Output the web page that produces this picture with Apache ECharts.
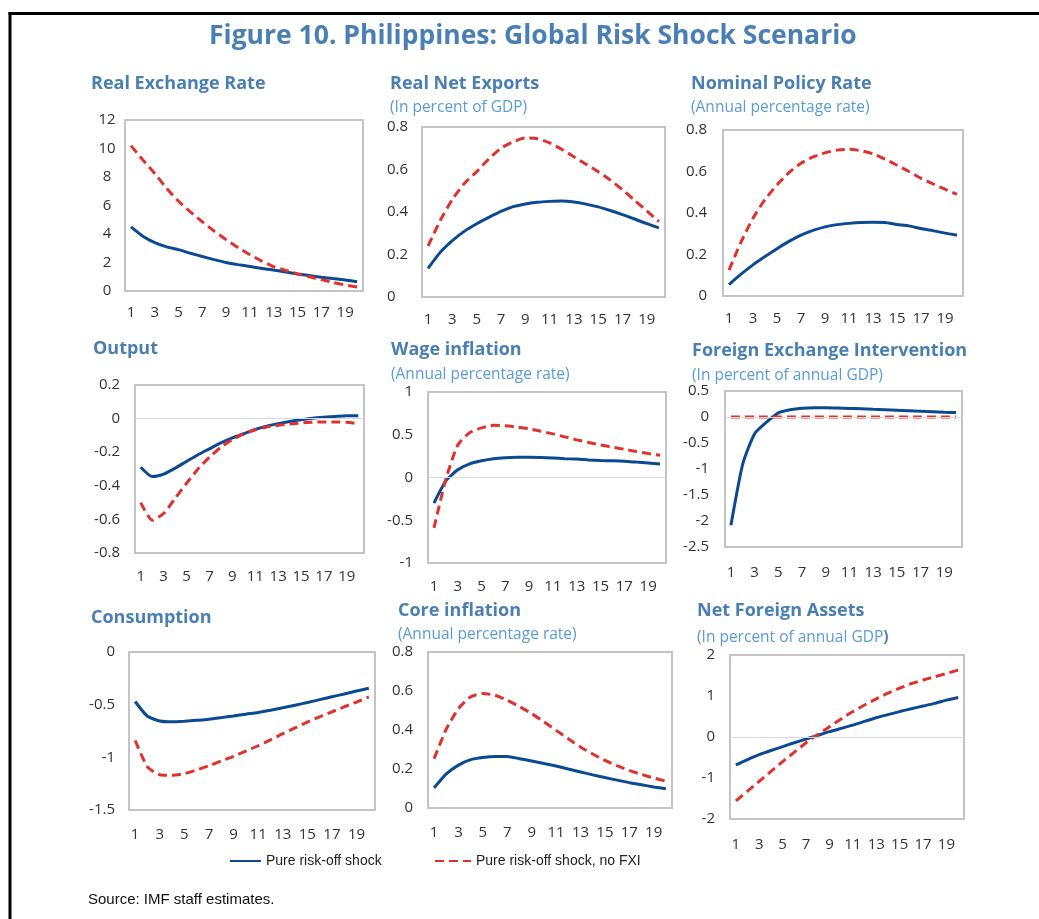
<!DOCTYPE html>
<html>
<head>
<meta charset="utf-8">
<script src="https://cdn.jsdelivr.net/npm/echarts@6/dist/echarts.min.js"></script>
<style>
  html, body { margin: 0; padding: 0; background: #fff; overflow: hidden; }
  #chart { width: 1039px; height: 919px; }
</style>
</head>
<body>
<div id="chart"></div>
<script>
// periods (quarters after shock)
const periods = ['1','2','3','4','5','6','7','8','9','10','11','12','13','14','15','16','17','18','19','20'];

const seriesNames = ['Pure risk-off shock', 'Pure risk-off shock, no FXI'];

// blue = with FXI, red = no FXI
const rerBlue = [4.5, 3.85, 3.4, 3.1, 2.9, 2.65, 2.42, 2.2, 2.0, 1.85, 1.72, 1.58, 1.47, 1.33, 1.2, 1.08, 0.97, 0.87, 0.77, 0.65];
const rerRed = [10.2, 9.2, 8.25, 7.2, 6.3, 5.55, 4.85, 4.2, 3.6, 3.05, 2.55, 2.1, 1.7, 1.45, 1.2, 1.0, 0.8, 0.6, 0.42, 0.28];

const nxBlue = [0.135, 0.21, 0.265, 0.31, 0.345, 0.375, 0.403, 0.425, 0.438, 0.446, 0.45, 0.452, 0.447, 0.437, 0.424, 0.407, 0.388, 0.367, 0.345, 0.325];
const nxRed = [0.24, 0.36, 0.46, 0.535, 0.59, 0.65, 0.70, 0.73, 0.748, 0.745, 0.725, 0.695, 0.66, 0.625, 0.59, 0.55, 0.505, 0.455, 0.405, 0.355];

const prBlue = [0.055, 0.105, 0.15, 0.19, 0.228, 0.263, 0.293, 0.316, 0.333, 0.344, 0.35, 0.354, 0.355, 0.354, 0.345, 0.338, 0.325, 0.315, 0.303, 0.293];
const prRed = [0.125, 0.26, 0.375, 0.465, 0.535, 0.595, 0.64, 0.67, 0.69, 0.703, 0.707, 0.70, 0.685, 0.66, 0.63, 0.6, 0.567, 0.54, 0.515, 0.49];

const outBlue = [-0.29, -0.345, -0.33, -0.295, -0.255, -0.215, -0.18, -0.145, -0.115, -0.09, -0.065, -0.045, -0.03, -0.017, -0.007, 0.002, 0.008, 0.013, 0.017, 0.017];
const outRed = [-0.5, -0.605, -0.565, -0.475, -0.385, -0.3, -0.23, -0.17, -0.125, -0.09, -0.066, -0.05, -0.04, -0.032, -0.026, -0.022, -0.02, -0.02, -0.022, -0.03];

const wageBlue = [-0.3, -0.04, 0.09, 0.16, 0.195, 0.22, 0.232, 0.237, 0.238, 0.235, 0.228, 0.22, 0.215, 0.205, 0.198, 0.195, 0.19, 0.18, 0.17, 0.157];
const wageRed = [-0.59, -0.02, 0.38, 0.525, 0.58, 0.61, 0.605, 0.59, 0.57, 0.54, 0.51, 0.475, 0.44, 0.41, 0.38, 0.355, 0.33, 0.305, 0.28, 0.26];

const fxiBlue = [-2.08, -0.9, -0.32, -0.1, 0.08, 0.14, 0.17, 0.18, 0.18, 0.175, 0.165, 0.16, 0.15, 0.14, 0.13, 0.12, 0.11, 0.1, 0.09, 0.085];
const fxiRed = [0, 0, 0, 0, 0, 0, 0, 0, 0, 0, 0, 0, 0, 0, 0, 0, 0, 0, 0, 0];

const consBlue = [-0.47, -0.61, -0.655, -0.663, -0.657, -0.648, -0.638, -0.623, -0.607, -0.59, -0.575, -0.553, -0.53, -0.505, -0.48, -0.452, -0.425, -0.398, -0.37, -0.345];
const consRed = [-0.84, -1.09, -1.165, -1.17, -1.155, -1.12, -1.08, -1.035, -0.99, -0.94, -0.89, -0.835, -0.775, -0.72, -0.665, -0.615, -0.568, -0.52, -0.475, -0.425];

const coreBlue = [0.103, 0.175, 0.22, 0.248, 0.259, 0.264, 0.264, 0.253, 0.241, 0.228, 0.215, 0.2, 0.185, 0.17, 0.156, 0.143, 0.13, 0.119, 0.108, 0.099];
const coreRed = [0.253, 0.405, 0.51, 0.57, 0.587, 0.578, 0.552, 0.52, 0.484, 0.442, 0.398, 0.355, 0.313, 0.277, 0.244, 0.217, 0.193, 0.172, 0.154, 0.137];

const nfaBlue = [-0.68, -0.55, -0.43, -0.33, -0.235, -0.14, -0.05, 0.04, 0.13, 0.21, 0.29, 0.38, 0.47, 0.545, 0.62, 0.69, 0.755, 0.82, 0.9, 0.965];
const nfaRed = [-1.56, -1.32, -1.08, -0.84, -0.6, -0.37, -0.14, 0.06, 0.25, 0.44, 0.62, 0.78, 0.93, 1.07, 1.19, 1.3, 1.39, 1.47, 1.55, 1.63];

// panel layout: grid box, y scale, label spacing, titles
const panels = [
    { title: 'Real Exchange Rate', tx: 91, ty: 83,
      box: [125, 120, 238, 171], y: [0, 12, 2], yAlign: 'center', yMargin: 18, xMargin: 14,
      blue: rerBlue, red: rerRed },
    { title: 'Real Net Exports', sub: '(In percent of GDP)', tx: 390, ty: 83, sy: 106,
      box: [422, 127, 243, 170], y: [0, 0.8, 0.2], yAlign: 'left', yMargin: 35, xMargin: 15,
      blue: nxBlue, red: nxRed },
    { title: 'Nominal Policy Rate', sub: '(Annual percentage rate)', tx: 691, ty: 83, sy: 106,
      box: [723, 130, 240, 166], y: [0, 0.8, 0.2], yAlign: 'right', yMargin: 16, xMargin: 15,
      blue: prBlue, red: prRed },
    { title: 'Output', tx: 93, ty: 348,
      box: [135, 385, 229, 168], y: [-0.8, 0.2, 0.2], yAlign: 'right', yMargin: 15, xMargin: 16, zero: true,
      blue: outBlue, red: outRed },
    { title: 'Wage inflation', sub: '(Annual percentage rate)', tx: 391, ty: 349, sy: 373,
      box: [428, 392, 238, 171], y: [-1, 1, 0.5], yAlign: 'right', yMargin: 15, xMargin: 16, zero: true,
      blue: wageBlue, red: wageRed },
    { title: 'Foreign Exchange Intervention', sub: '(In percent of annual GDP)', tx: 692, ty: 350, sy: 374,
      box: [725, 391, 237, 156], y: [-2.5, 0.5, 0.5], yAlign: 'right', yMargin: 16, xMargin: 18, zero: true,
      blue: fxiBlue, red: fxiRed },
    { title: 'Consumption', tx: 91, ty: 617,
      box: [129, 652, 246, 158], y: [-1.5, 0, 0.5], yAlign: 'right', yMargin: 14, xMargin: 17,
      blue: consBlue, red: consRed },
    { title: 'Core inflation', sub: '(Annual percentage rate)', tx: 398, ty: 610, sy: 633,
      box: [428, 652, 244, 156], y: [0, 0.8, 0.2], yAlign: 'right', yMargin: 15, xMargin: 17,
      blue: coreBlue, red: coreRed },
    { title: 'Net Foreign Assets', sub: '(In percent of annual GDP', subBold: ')', tx: 697, ty: 610, sy: 636,
      box: [730, 655, 234, 164], y: [-2, 2, 1], yAlign: 'right', yMargin: 15, xMargin: 18, zero: true,
      blue: nfaBlue, red: nfaRed }
];

const BLUE = '#0b4a93';
const RED = '#e0322c';
const TITLE = '#4a7fb3';
const SUB = '#5b9bd5';
const LABEL_FONT = 'Open Sans, Noto Sans, sans-serif';

const chart = echarts.init(document.getElementById('chart'));

const grids = [], xAxes = [], yAxes = [], series = [], texts = [];

panels.forEach((p, i) => {
    grids.push({
        left: p.box[0], top: p.box[1], width: p.box[2], height: p.box[3],
        show: true, borderColor: '#c4c4c4', borderWidth: 2, backgroundColor: '#fff'
    });
    xAxes.push({
        type: 'category', gridIndex: i, data: periods, boundaryGap: true,
        axisLine: { show: false }, axisTick: { show: false }, splitLine: { show: false },
        axisLabel: { interval: 1, margin: p.xMargin, color: '#333', fontSize: 15, fontFamily: LABEL_FONT }
    });
    yAxes.push({
        type: 'value', gridIndex: i, min: p.y[0], max: p.y[1], interval: p.y[2],
        axisLine: { show: false }, axisTick: { show: false }, splitLine: { show: false },
        axisLabel: { margin: p.yMargin, align: p.yAlign, color: '#333', fontSize: 15, fontFamily: LABEL_FONT }
    });
    if (p.zero) {
        series.push({
            type: 'line', xAxisIndex: i, yAxisIndex: i, data: [], silent: true, z: 1,
            markLine: {
                silent: true, symbol: ['none', 'none'], label: { show: false },
                lineStyle: { color: '#d9d9d9', width: 1, type: 'solid' },
                emphasis: { disabled: true },
                data: [{ yAxis: 0 }]
            }
        });
    }
    series.push({
        name: seriesNames[0], type: 'line', xAxisIndex: i, yAxisIndex: i,
        data: p.blue, symbol: 'none', smooth: 0.2, z: 3,
        lineStyle: { color: BLUE, width: 3 }, itemStyle: { color: BLUE }
    });
    series.push({
        name: seriesNames[1], type: 'line', xAxisIndex: i, yAxisIndex: i,
        data: p.red, symbol: 'none', smooth: 0.2, z: 4,
        lineStyle: { color: RED, width: 3, type: [9, 5] }, itemStyle: { color: RED }
    });

    texts.push({
        type: 'text', left: p.tx, top: p.ty - 8,
        style: { text: p.title, font: 'bold 18px "Open Sans", sans-serif', fill: TITLE }
    });
    if (p.sub) {
        texts.push({
            type: 'text', left: p.tx, top: p.sy - 6,
            style: {
                text: p.subBold ? '{n|' + p.sub + '}{b|' + p.subBold + '}' : p.sub,
                font: '15.5px "Open Sans", sans-serif', fill: SUB,
                rich: p.subBold ? {
                    n: { font: '15.5px "Open Sans", sans-serif', fill: SUB },
                    b: { font: 'bold 15.5px "Open Sans", sans-serif', fill: TITLE }
                } : undefined
            }
        });
    }
});

const legendText = { color: '#222', fontSize: 14, fontFamily: 'Liberation Sans Narrow, Arial Narrow, Liberation Sans, sans-serif' };

chart.setOption({
    animation: false,
    grid: grids,
    xAxis: xAxes,
    yAxis: yAxes,
    series: series,
    legend: [
        { data: [seriesNames[0]], left: 229, top: 854, itemWidth: 31, itemHeight: 14, padding: 0,
          itemStyle: { opacity: 0 }, textStyle: legendText },
        { data: [seriesNames[1]], left: 434, top: 854, itemWidth: 36, itemHeight: 14, padding: 0,
          itemStyle: { opacity: 0 }, textStyle: legendText }
    ],
    graphic: [
        // frame: top and left rules only
        { type: 'rect', silent: true, shape: { x: 8.5, y: 12, width: 1031, height: 3 }, style: { fill: '#000' } },
        { type: 'rect', silent: true, shape: { x: 8.5, y: 12, width: 3, height: 907 }, style: { fill: '#000' } },
        {
            type: 'text', left: 209, top: 23,
            style: { text: 'Figure 10. Philippines: Global Risk Shock Scenario', font: 'bold 26.5px "Open Sans", sans-serif', fill: TITLE }
        },
        {
            type: 'text', left: 88, top: 892,
            style: { text: 'Source: IMF staff estimates.', font: '15px "Liberation Sans", Arial, sans-serif', fill: '#111' }
        },
        ...texts
    ]
});
</script>
</body>
</html>
